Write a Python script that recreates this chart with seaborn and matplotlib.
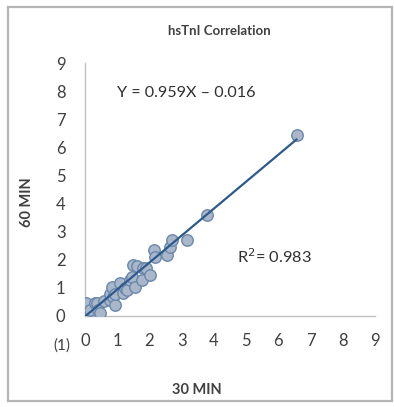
import matplotlib
matplotlib.use("Agg")
import matplotlib.pyplot as plt
from matplotlib.patches import Rectangle
import numpy as np
import pandas as pd
import seaborn as sns

# hsTnI measured at 30 and 60 minutes
min30 = [0.02, 0.15, 0.31, 0.36, 0.41, 0.47, 0.60, 0.78, 0.78, 0.83, 0.88, 0.93, 0.93,
         1.09, 1.19, 1.24, 1.29, 1.40, 1.45, 1.50, 1.55, 1.60, 1.76, 1.81, 1.90, 2.02,
         2.15, 2.17, 2.54, 2.64, 2.69, 3.16, 3.78, 6.57]
min60 = [0.46, 0.21, 0.46, 0.45, 0.21, 0.10, 0.55, 0.57, 0.80, 1.04, 0.69, 0.39, 0.80,
         1.16, 0.81, 0.98, 0.93, 1.28, 1.40, 1.80, 1.04, 1.78, 1.28, 1.70, 1.70, 1.46,
         2.35, 2.10, 2.17, 2.47, 2.70, 2.70, 3.60, 6.44]

slope = 0.959
intercept = -0.016
r_squared = 0.983

ticks = list(range(0, 10))

sns.set_theme(style="white")
plt.rcParams["font.family"] = ["Lato", "DejaVu Sans"]

fig = plt.figure(figsize=(3.94, 4.07), dpi=100)
ax = fig.add_axes([85 / 394, 1 - 316 / 407, 290 / 394, 253 / 407])

df = pd.DataFrame({"30 MIN": min30, "60 MIN": min60})
sns.scatterplot(data=df, x="30 MIN", y="60 MIN", ax=ax, s=68,
                color="#a9b7c9", edgecolor="#6a87ad", linewidth=1.0, zorder=3)

fit_x = np.array([0.0, max(min30)])
fit_df = pd.DataFrame({"x": fit_x, "y": slope * fit_x + intercept})
sns.lineplot(data=fit_df, x="x", y="y", ax=ax, color="#2d5a8c", linewidth=1.6, zorder=4)

ax.set_xlim(0, 9)
ax.set_ylim(0, 9)
ax.set_xticks(ticks)
ax.set_yticks(ticks)
ax.set_xticklabels([str(t) for t in ticks])
ax.set_yticklabels([str(t) for t in ticks])
ax.set_xlabel("")
ax.set_ylabel("")

for side in ("top", "right"):
    ax.spines[side].set_visible(False)
for side in ("left", "bottom"):
    ax.spines[side].set_color("#c0c0c0")
    ax.spines[side].set_linewidth(1.0)

ax.tick_params(axis="both", which="major", length=4, width=0.8, color="#c0c0c0",
               labelsize=12, labelcolor="#404040", direction="out")
ax.tick_params(axis="x", pad=8)
ax.tick_params(axis="y", pad=10)
ax.grid(False)

fig.text(62 / 394, 1 - 346 / 407, "(1)", ha="center", va="center",
         fontsize=11, color="#404040")

fig.text(219 / 394, 1 - 31 / 407, "hsTnI Correlation", ha="center", va="center",
         fontsize=9.5, fontweight="bold", color="#404040")
fig.text(27 / 394, 1 - 202 / 407, "60 MIN", ha="center", va="center", rotation=90,
         fontsize=10.5, fontweight="bold", color="#404040")
fig.text(197 / 394, 1 - 390 / 407, "30 MIN", ha="center", va="center",
         fontsize=10.5, fontweight="bold", color="#404040")

sign = "–" if intercept < 0 else "+"
fig.text(186 / 394, 1 - 93 / 407, f"Y = {slope:.3f}X {sign} {abs(intercept):.3f}",
         ha="center", va="center", fontsize=11.6, color="#303030")
fig.text(274 / 394, 1 - 257 / 407, f"R$^{{2}}$= {r_squared:.3f}",
         ha="center", va="center", fontsize=11.8, color="#303030")

fig.patches.append(Rectangle((8 / 394, 6 / 407), 384 / 394, 394 / 407,
                             transform=fig.transFigure, fill=False,
                             edgecolor="#b5b5b5", linewidth=1.6))

fig.savefig("out.png", dpi=100)
